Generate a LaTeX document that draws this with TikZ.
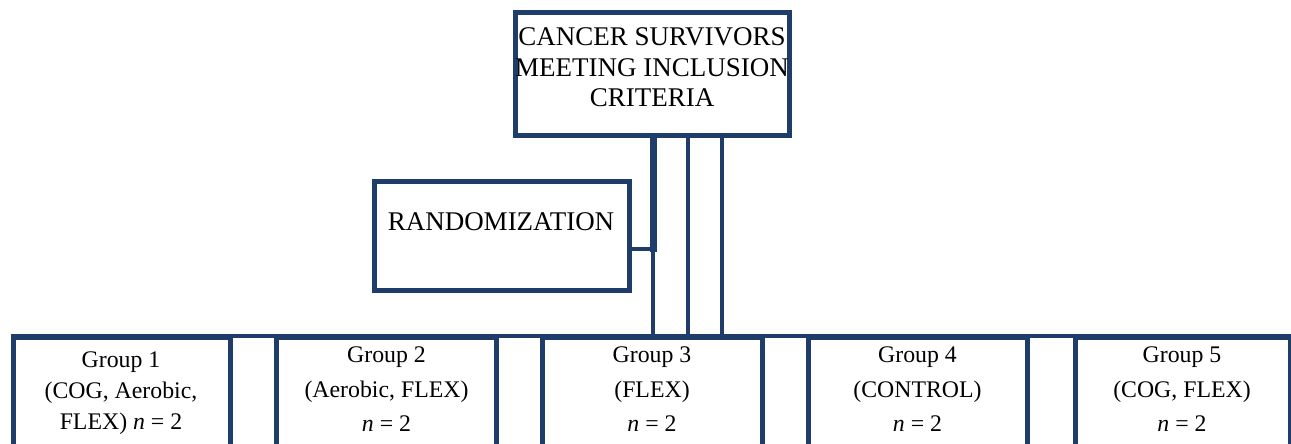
\documentclass[tikz,border=0pt]{standalone}
\usepackage{fontspec}
\setmainfont{Liberation Serif}
\definecolor{navy}{RGB}{31,61,107}
\begin{document}
\begin{tikzpicture}[x=1pt,y=-1pt,
  boxline/.style={draw=navy,line width=5pt,inner sep=0pt,outer sep=0pt},
  grpbox/.style={boxline,anchor=north west,minimum width=#1,minimum height=220pt},
  conn/.style={draw=navy,line width=4pt},
  thickconn/.style={draw=navy,line width=7pt},
  bigtext/.style={inner sep=0pt,align=center,font=\fontsize{27}{30.5}\selectfont},
  grptext/.style={inner sep=0pt,align=center,anchor=north,font=\fontsize{23.8}{34.5}\selectfont}]
\useasboundingbox (0,0) rectangle (1291,444);
\clip (0,0) rectangle (1291,444);
% top box
\node[boxline,minimum width=274pt,minimum height=122.5pt] (topbox) at (652.5,73.75) {};
\node[bigtext,anchor=north] (toptext) at (652,27.5) {CANCER SURVIVORS\\MEETING INCLUSION\\CRITERIA};
% randomization
\node[boxline,minimum width=255.5pt,minimum height=109pt] (rand) at (501.8,236) {};
\node[inner sep=0pt,anchor=base,font=\fontsize{27}{30}\selectfont] (randtext) at (501,230) {RANDOMIZATION};
% group boxes
\node[grpbox=217.5pt] (g1) at (13,337) {};
\node[grpbox=219.5pt] (g2) at (276.5,337) {};
\node[grpbox=220pt] (g3) at (542,337) {};
\node[grpbox=219.5pt] (g4) at (808,337) {};
\node[grpbox=215pt] (g5) at (1075,337) {};
% group texts
\node[grptext,font=\fontsize{23.8}{31}\selectfont] (t1) at (121,352) {Group 1\\(COG, Aerobic,\\FLEX) \textit{n} = 2};
\node[grptext] (t2) at (386.5,347) {Group 2\\(Aerobic, FLEX)\\\textit{n} = 2};
\node[grptext] (t3) at (652,347) {Group 3\\(FLEX)\\\textit{n} = 2};
\node[grptext] (t4) at (917.5,347) {Group 4\\(CONTROL)\\\textit{n} = 2};
\node[grptext] (t5) at (1182,347) {Group 5\\(COG, FLEX)\\\textit{n} = 2};
% junctions
\coordinate (j1) at (652.5,336);
\coordinate (j2) at (687.5,336);
\coordinate (j3) at (721.5,336);
\coordinate (rj) at (656,249);
% connectors
\draw[conn] (g1.north west) ++(-2,-1) -- (g5.north east |- j1) -- ++(20,0);
\draw[conn] (topbox.south -| j1) -- (j1);
\draw[thickconn] (topbox.south -| rj) ++(-2.5,0) -- ++(0,117);
\draw[conn] (topbox.south -| j2) -- (j2);
\draw[conn] (topbox.south -| j3) -- (j3);
\draw[conn] (rand.east |- rj) -- (rj);
\end{tikzpicture}
\end{document}
